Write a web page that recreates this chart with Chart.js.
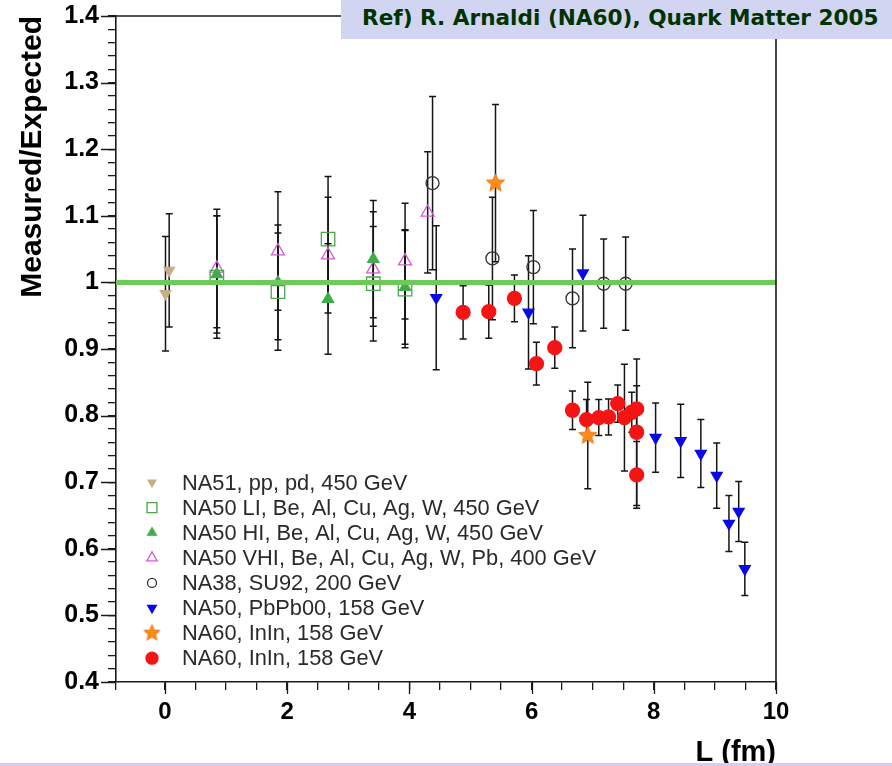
<!DOCTYPE html>
<html>
<head>
<meta charset="utf-8">
<script src="https://cdn.jsdelivr.net/npm/chart.js@4.4.1/dist/chart.umd.min.js"></script>
<style>
  html, body { margin: 0; padding: 0; background: #fff; }
  #wrap { position: relative; width: 892px; height: 766px; overflow: hidden; }
  #ref {
    position: absolute; left: 341px; top: 0; width: 551px; height: 39px;
    background: #d1d5f1; color: #003300;
    font: bold 21.6px "DejaVu Sans", sans-serif; line-height: 36px;
    padding-left: 21px; box-sizing: border-box; white-space: nowrap;
  }
  #bot { position: absolute; left: 0; top: 763px; width: 892px; height: 3px; background: #d8ccef; }
</style>
</head>
<body>
<div id="wrap">
  <canvas id="chart" width="892" height="766"></canvas>
  <div id="ref">Ref) R. Arnaldi (NA60), Quark Matter 2005</div>
  <div id="bot"></div>
</div>
<script>
// each point: [L (fm), measured/expected, error]
const na51 = [[0.07, 1.018, 0.085], [0.01, 0.983, 0.086]];
const na50LI = [[0.85, 1.008, 0.092], [1.85, 0.986, 0.088], [2.67, 1.065, 0.094], [3.41, 0.998, 0.086], [3.93, 0.990, 0.088]];
const na50HI = [[0.85, 1.012, 0.088], [1.85, 1.000, 0.086], [2.67, 0.975, 0.083], [3.41, 1.035, 0.088], [3.93, 0.993, 0.086]];
const na50VHI = [[0.85, 1.021, 0.089], [1.85, 1.047, 0.089], [2.67, 1.041, 0.087], [3.41, 1.020, 0.086], [3.93, 1.032, 0.087], [4.30, 1.105, 0.091]];
const na38 = [[4.38, 1.149, 0.130], [5.36, 1.036, 0.092], [6.03, 1.023, 0.085], [6.67, 0.976, 0.074], [7.18, 0.998, 0.067], [7.54, 0.998, 0.070]];
const na50PbPb = [[4.44, 0.977, 0.108], [5.95, 0.955, 0.085], [6.84, 1.014, 0.087], [8.03, 0.767, 0.052], [8.44, 0.762, 0.055],
                  [8.77, 0.743, 0.051], [9.03, 0.710, 0.049], [9.23, 0.638, 0.042], [9.39, 0.656, 0.045], [9.49, 0.570, 0.040]];
const na60Star = [[5.41, 1.149, 0.118], [6.92, 0.770, 0.080]];
const na60InIn = [[4.88, 0.955, 0.040], [5.30, 0.956, 0.040], [5.72, 0.976, 0.035], [6.08, 0.878, 0.032], [6.38, 0.902, 0.031],
                  [6.67, 0.808, 0.029], [6.90, 0.794, 0.030], [7.10, 0.797, 0.027], [7.26, 0.798, 0.027], [7.41, 0.818, 0.028],
                  [7.52, 0.797, 0.080], [7.64, 0.805, 0.030], [7.72, 0.810, 0.035], [7.72, 0.775, 0.110], [7.72, 0.711, 0.050]];
const refLine = [[-0.8, 1.0], [10, 1.0]];

const labels = [
  'NA51, pp, pd, 450 GeV',
  'NA50 LI, Be, Al, Cu, Ag, W, 450 GeV',
  'NA50 HI, Be, Al, Cu, Ag, W, 450 GeV',
  'NA50 VHI, Be, Al, Cu, Ag, W, Pb, 400 GeV',
  'NA38, SU92, 200 GeV',
  'NA50, PbPb00, 158 GeV',
  'NA60, InIn, 158 GeV',
  'NA60, InIn, 158 GeV'
];

const xMin = -0.8, xMax = 10, yMin = 0.4, yMax = 1.4;
const xTitle = 'L (fm)';

function makeStar(r) {
  const s = Math.ceil(r * 2 + 4);
  const c = document.createElement('canvas');
  c.width = s; c.height = s;
  const g = c.getContext('2d');
  g.beginPath();
  for (let k = 0; k < 10; k++) {
    const a = -Math.PI / 2 + k * Math.PI / 5;
    const rr = k % 2 ? r * 0.45 : r;
    g.lineTo(s / 2 + rr * Math.cos(a), s / 2 + rr * Math.sin(a));
  }
  g.closePath();
  g.fillStyle = '#ff8a1c';
  g.fill();
  g.strokeStyle = '#e87a10';
  g.lineWidth = 1;
  g.stroke();
  return c;
}
const starPlot = makeStar(9.5);
const starLegend = makeStar(8.5);

const clear = 'rgba(0,0,0,0)';
const pts = s => s.map(p => ({x: p[0], y: p[1]}));
const errs = s => s.map(p => p[2]);

function series(label, s, style) {
  return Object.assign({
    label: label,
    data: pts(s),
    errors: errs(s),
    showLine: false,
    pointRotation: 0,
    pointBorderWidth: 1.3
  }, style);
}

const datasets = [
  {
    type: 'line', label: 'ref', data: pts(refLine), noLegend: true,
    borderColor: '#6cc95a', borderWidth: 5, pointRadius: 0, showLine: true, fill: false
  },
  series(labels[0], na51, {pointStyle: 'triangle', pointRotation: 180, pointRadius: 6,
    pointBackgroundColor: '#c9ad84', pointBorderColor: '#c9ad84', legendRadius: 4.5}),
  series(labels[1], na50LI, {pointStyle: 'rect', pointRadius: 9.5,
    pointBackgroundColor: clear, pointBorderColor: '#4aa84a', legendRadius: 7}),
  series(labels[2], na50HI, {pointStyle: 'triangle', pointRadius: 6.5,
    pointBackgroundColor: '#3fae4a', pointBorderColor: '#3fae4a', legendRadius: 5}),
  series(labels[3], na50VHI, {pointStyle: 'triangle', pointRadius: 7.5,
    pointBackgroundColor: clear, pointBorderColor: '#d45ad4', legendRadius: 6}),
  series(labels[4], na38, {pointStyle: 'circle', pointRadius: 6.5,
    pointBackgroundColor: clear, pointBorderColor: '#333', legendRadius: 4.5}),
  series(labels[5], na50PbPb, {pointStyle: 'triangle', pointRotation: 180, pointRadius: 6.3,
    pointBackgroundColor: '#0a0ae6', pointBorderColor: '#0a0ae6', legendRadius: 5}),
  series(labels[6], na60Star, {pointStyle: starPlot, pointRadius: 9, legendStyle: starLegend,
    pointBackgroundColor: '#ff8a1c', pointBorderColor: '#ff8a1c'}),
  series(labels[7], na60InIn, {pointStyle: 'circle', pointRadius: 7,
    pointBackgroundColor: '#f51414', pointBorderColor: '#f51414', legendRadius: 6})
];

const fam = '"Liberation Sans", Arial, sans-serif';
const xTickFont = {family: fam, weight: 'bold', size: 24, lineHeight: 1};
const yTickFont = {family: fam, weight: 'bold', size: 25, lineHeight: 1};
const titleFont = {family: fam, weight: 'bold', size: 30};

const decorations = {
  id: 'decorations',
  beforeDatasetsDraw(chart) {
    const ctx = chart.ctx, ys = chart.scales.y, area = chart.chartArea;
    ctx.save();
    ctx.beginPath();
    ctx.rect(area.left, area.top, area.right - area.left, area.bottom - area.top);
    ctx.clip();
    ctx.strokeStyle = '#151515';
    ctx.lineWidth = 1.5;
    chart.data.datasets.forEach((ds, i) => {
      if (!ds.errors) return;
      const meta = chart.getDatasetMeta(i);
      meta.data.forEach((el, j) => {
        const v = ds.data[j].y, e = ds.errors[j];
        const px = el.x;
        const top = ys.getPixelForValue(v + e), bot = ys.getPixelForValue(v - e);
        ctx.beginPath();
        ctx.moveTo(px, top); ctx.lineTo(px, bot);
        ctx.moveTo(px - 3.5, top); ctx.lineTo(px + 3.5, top);
        ctx.moveTo(px - 3.5, bot); ctx.lineTo(px + 3.5, bot);
        ctx.stroke();
      });
    });
    ctx.restore();
  },
  afterDraw(chart) {
    const ctx = chart.ctx, xs = chart.scales.x, ys = chart.scales.y, area = chart.chartArea;
    ctx.save();
    // top and right frame
    ctx.strokeStyle = '#1a1a1a';
    ctx.lineWidth = 1.6;
    ctx.beginPath();
    ctx.moveTo(area.left, area.top); ctx.lineTo(area.right, area.top); ctx.lineTo(area.right, area.bottom);
    ctx.stroke();
    // longer major ticks
    ctx.lineWidth = 1.3;
    ctx.beginPath();
    for (let k = 4; k <= 14; k++) {
      const py = Math.round(ys.getPixelForValue(k / 10)) + 0.5;
      ctx.moveTo(area.left - 15, py); ctx.lineTo(area.left, py);
    }
    for (let k = 0; k <= 10; k += 2) {
      const px = Math.round(xs.getPixelForValue(k)) + 0.5;
      ctx.moveTo(px, area.bottom); ctx.lineTo(px, area.bottom + 12);
    }
    ctx.stroke();
    // x axis title, right-aligned under the plot
    ctx.fillStyle = '#000';
    ctx.font = 'bold 29px ' + fam;
    ctx.textAlign = 'right';
    ctx.textBaseline = 'alphabetic';
    ctx.fillText(xTitle, area.right, 761);
    // legend inside plot
    let row = 0;
    chart.data.datasets.forEach(ds => {
      if (ds.noLegend) return;
      const cy = 482.5 + row * 25.1;
      ctx.save();
      ctx.fillStyle = ds.pointBackgroundColor;
      ctx.strokeStyle = ds.pointBorderColor;
      ctx.lineWidth = ds.pointBorderWidth;
      Chart.helpers.drawPoint(ctx, {
        pointStyle: ds.legendStyle || ds.pointStyle,
        rotation: ds.pointRotation,
        radius: ds.legendRadius || 5,
        borderWidth: ds.pointBorderWidth
      }, 152, cy);
      ctx.restore();
      ctx.fillStyle = '#2a2a2a';
      ctx.font = '21.8px ' + fam;
      ctx.textBaseline = 'middle';
      ctx.textAlign = 'left';
      ctx.fillText(ds.label, 182, cy + 1);
      row++;
    });
    ctx.restore();
  }
};

new Chart(document.getElementById('chart'), {
  type: 'scatter',
  data: {datasets: datasets},
  options: {
    responsive: false,
    animation: false,
    events: [],
    layout: {padding: {left: 0, top: 16, right: 116, bottom: 0}},
    plugins: {legend: {display: false}, tooltip: {enabled: false}},
    scales: {
      x: {
        type: 'linear', min: xMin, max: xMax,
        afterFit(s) { s.height = 84; s.paddingLeft = 0; s.paddingRight = 0; },
        border: {display: true, color: '#1a1a1a', width: 1.6},
        grid: {drawOnChartArea: false, drawTicks: true, tickLength: 8, color: '#1a1a1a', lineWidth: 1.3},
        ticks: {
          stepSize: 0.5, autoSkip: false, maxRotation: 0, padding: 10, color: '#000', font: xTickFont,
          callback(v) {
            const r = Math.round(v);
            return Math.abs(v - r) < 1e-6 && r % 2 === 0 ? String(r) : '';
          }
        }
      },
      y: {
        type: 'linear', min: yMin, max: yMax,
        afterFit(s) { s.width = 116; s.paddingTop = 0; s.paddingBottom = 0; },
        border: {display: true, color: '#1a1a1a', width: 1.6},
        grid: {drawOnChartArea: false, drawTicks: true, tickLength: 8, color: '#1a1a1a', lineWidth: 1.3},
        ticks: {
          stepSize: 0.02, autoSkip: false, padding: 9, color: '#000', font: yTickFont,
          callback(v) {
            const t = Math.round(v * 10);
            return Math.abs(v * 10 - t) < 1e-6 ? String(t / 10) : '';
          }
        },
        title: {display: true, text: 'Measured/Expected', align: 'end', color: '#000', font: titleFont, padding: {top: 15, bottom: 0}}
      }
    }
  },
  plugins: [decorations]
});
</script>
</body>
</html>
